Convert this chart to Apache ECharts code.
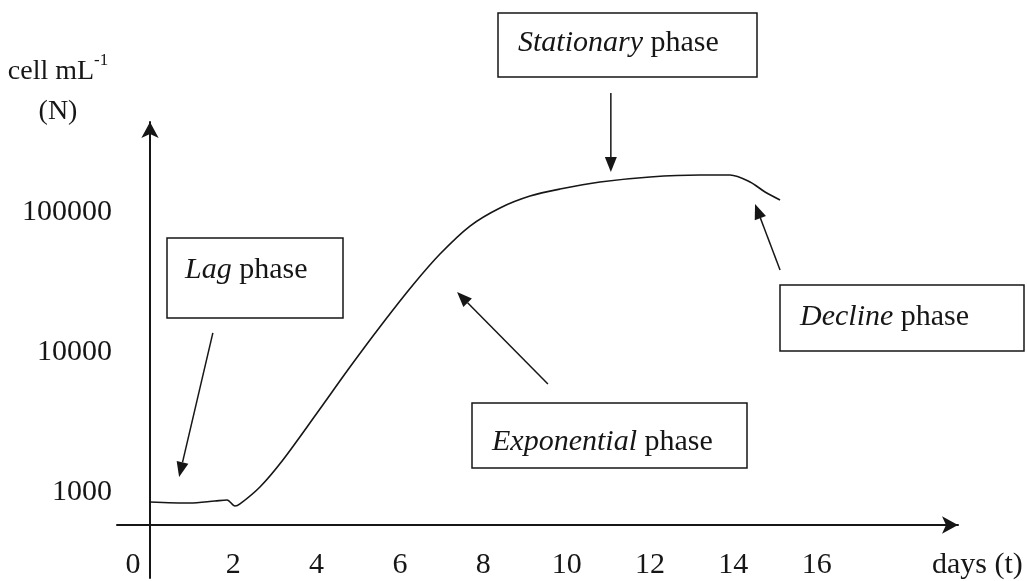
<!DOCTYPE html>
<html>
<head>
<meta charset="utf-8">
<title>Growth phases</title>
<script src="https://cdn.jsdelivr.net/npm/echarts@6/dist/echarts.min.js"></script>
<style>
  html, body { margin: 0; padding: 0; background: #fff; }
  #chart { width: 1027px; height: 581px; }
</style>
</head>
<body>
<div id="chart"></div>
<script>
// growth curve (days, cells per mL)
var days = [0, 0.96, 1.56, 1.85, 2.04, 2.16, 2.64, 3.19, 4.01, 4.80, 5.59, 6.31, 6.96, 7.68, 8.40, 9.12, 9.84, 10.80, 12.00, 13.20, 13.92, 14.40, 14.76, 15.12];
var cells = [849, 834, 862, 877, 794, 821, 1086, 1693, 3667, 7810, 16110, 30100, 50100, 79400, 106900, 130000, 145900, 163800, 177800, 183700, 183700, 163800, 139000, 121900];

var dayTicks = [0, 2, 4, 6, 8, 10, 12, 14, 16];
var cellTicks = [1000, 10000, 100000];

// pointer arrows, [fromDay, fromCells, toDay, toCells]
var arrows = [
  [1.51, 13680, 0.70, 1280],
  [9.55, 5910, 7.37, 26830],
  [11.06, 708000, 11.06, 193000],
  [15.12, 38500, 14.52, 114000]
];

var FONT = 'Liberation Serif';
var FS = 30;
var ink = '#161616';

function phaseBox(word, left, top, width, pad) {
  return {
    text: '{i|' + word + '}{n| phase}',
    left: left,
    top: top,
    textAlign: 'left',
    textVerticalAlign: 'top',
    padding: pad,
    borderColor: ink,
    borderWidth: 1.5,
    backgroundColor: '#fff',
    textStyle: {
      width: width,
      lineHeight: 32,
      fontWeight: 'normal',
      rich: {
        i: {fontFamily: FONT, fontSize: FS, fontStyle: 'italic', color: ink, lineHeight: 32},
        n: {fontFamily: FONT, fontSize: FS, color: ink, lineHeight: 32}
      }
    }
  };
}

function drawArrow(params, api) {
  var p1 = api.coord([api.value(0), api.value(1)]);
  var p2 = api.coord([api.value(2), api.value(3)]);
  var ang = Math.atan2(p2[1] - p1[1], p2[0] - p1[0]);
  var len = 15, hw = 6;
  var bx = p2[0] - len * Math.cos(ang), by = p2[1] - len * Math.sin(ang);
  var left = [bx + hw * Math.sin(ang), by - hw * Math.cos(ang)];
  var right = [bx - hw * Math.sin(ang), by + hw * Math.cos(ang)];
  return {
    type: 'group',
    children: [
      {type: 'line', shape: {x1: p1[0], y1: p1[1], x2: bx, y2: by}, style: {stroke: ink, lineWidth: 1.5}},
      {type: 'polygon', shape: {points: [p2, left, right]}, style: {fill: ink}}
    ]
  };
}

var chart = echarts.init(document.getElementById('chart'));
chart.setOption({
  animation: false,
  backgroundColor: '#fff',
  textStyle: {fontFamily: FONT, color: ink},
  title: [
    {
      text: 'cell mL{sup|-1}\n(N)',
      left: 58,
      top: 52,
      textAlign: 'center',
      textVerticalAlign: 'top',
      padding: 0,
      textStyle: {
        fontFamily: FONT, fontSize: 28, fontWeight: 'normal', color: ink, lineHeight: 40,
        rich: {sup: {fontFamily: FONT, fontSize: 17, color: ink, lineHeight: 20, verticalAlign: 'top'}}
      }
    },
    phaseBox('Stationary', 498, 13, 219, [14, 20, 18, 20]),
    phaseBox('Lag', 167, 238, 140, [16, 18, 32, 18]),
    phaseBox('Exponential', 472, 403, 235, [23, 20, 10, 20]),
    phaseBox('Decline', 780, 285, 204, [16, 20, 18, 20])
  ],
  grid: {left: 117, right: 69, top: 122, bottom: 3, outerBoundsMode: 'none'},
  xAxis: {
    type: 'value',
    min: -0.79,
    max: 19.39,
    offset: -53,
    axisLine: {show: true, onZero: false, lineStyle: {color: ink, width: 2}, symbol: ['none', 'arrow'], symbolSize: [13, 16]},
    axisTick: {show: false},
    splitLine: {show: false},
    axisLabel: {
      customValues: dayTicks,
      margin: 25,
      color: ink,
      fontFamily: FONT,
      fontSize: FS,
      formatter: function (v) { return v === 0 ? '{z|0}' : String(v); },
      rich: {z: {fontFamily: FONT, fontSize: FS, color: ink, padding: [0, 34, 0, 0]}}
    },
    name: 'days (t)',
    nameLocation: 'end',
    nameGap: -26,
    nameMoveOverlap: false,
    nameTextStyle: {color: ink, fontFamily: FONT, fontSize: FS, verticalAlign: 'top', align: 'left', padding: [25, 0, 0, 0]}
  },
  yAxis: {
    type: 'log',
    logBase: 10,
    min: 243,
    max: 439500,
    offset: -33,
    axisLine: {show: true, onZero: false, lineStyle: {color: ink, width: 2}, symbol: ['none', 'arrow'], symbolSize: [13, 16]},
    axisTick: {show: false},
    minorTick: {show: false},
    splitLine: {show: false},
    axisLabel: {
      customValues: cellTicks,
      margin: 38,
      color: ink,
      fontFamily: FONT,
      fontSize: FS,
      formatter: function (v) { return String(Math.round(v)); }
    }
  },
  series: [
    {
      type: 'line',
      data: days.map(function (d, i) { return [d, cells[i]]; }),
      showSymbol: false,
      smooth: 0.3,
      silent: true,
      lineStyle: {color: ink, width: 1.6},
      z: 3
    },
    {
      type: 'custom',
      data: arrows,
      encode: {x: [0, 2], y: [1, 3]},
      renderItem: drawArrow,
      silent: true,
      clip: false,
      z: 4
    }
  ]
});
</script>
</body>
</html>
